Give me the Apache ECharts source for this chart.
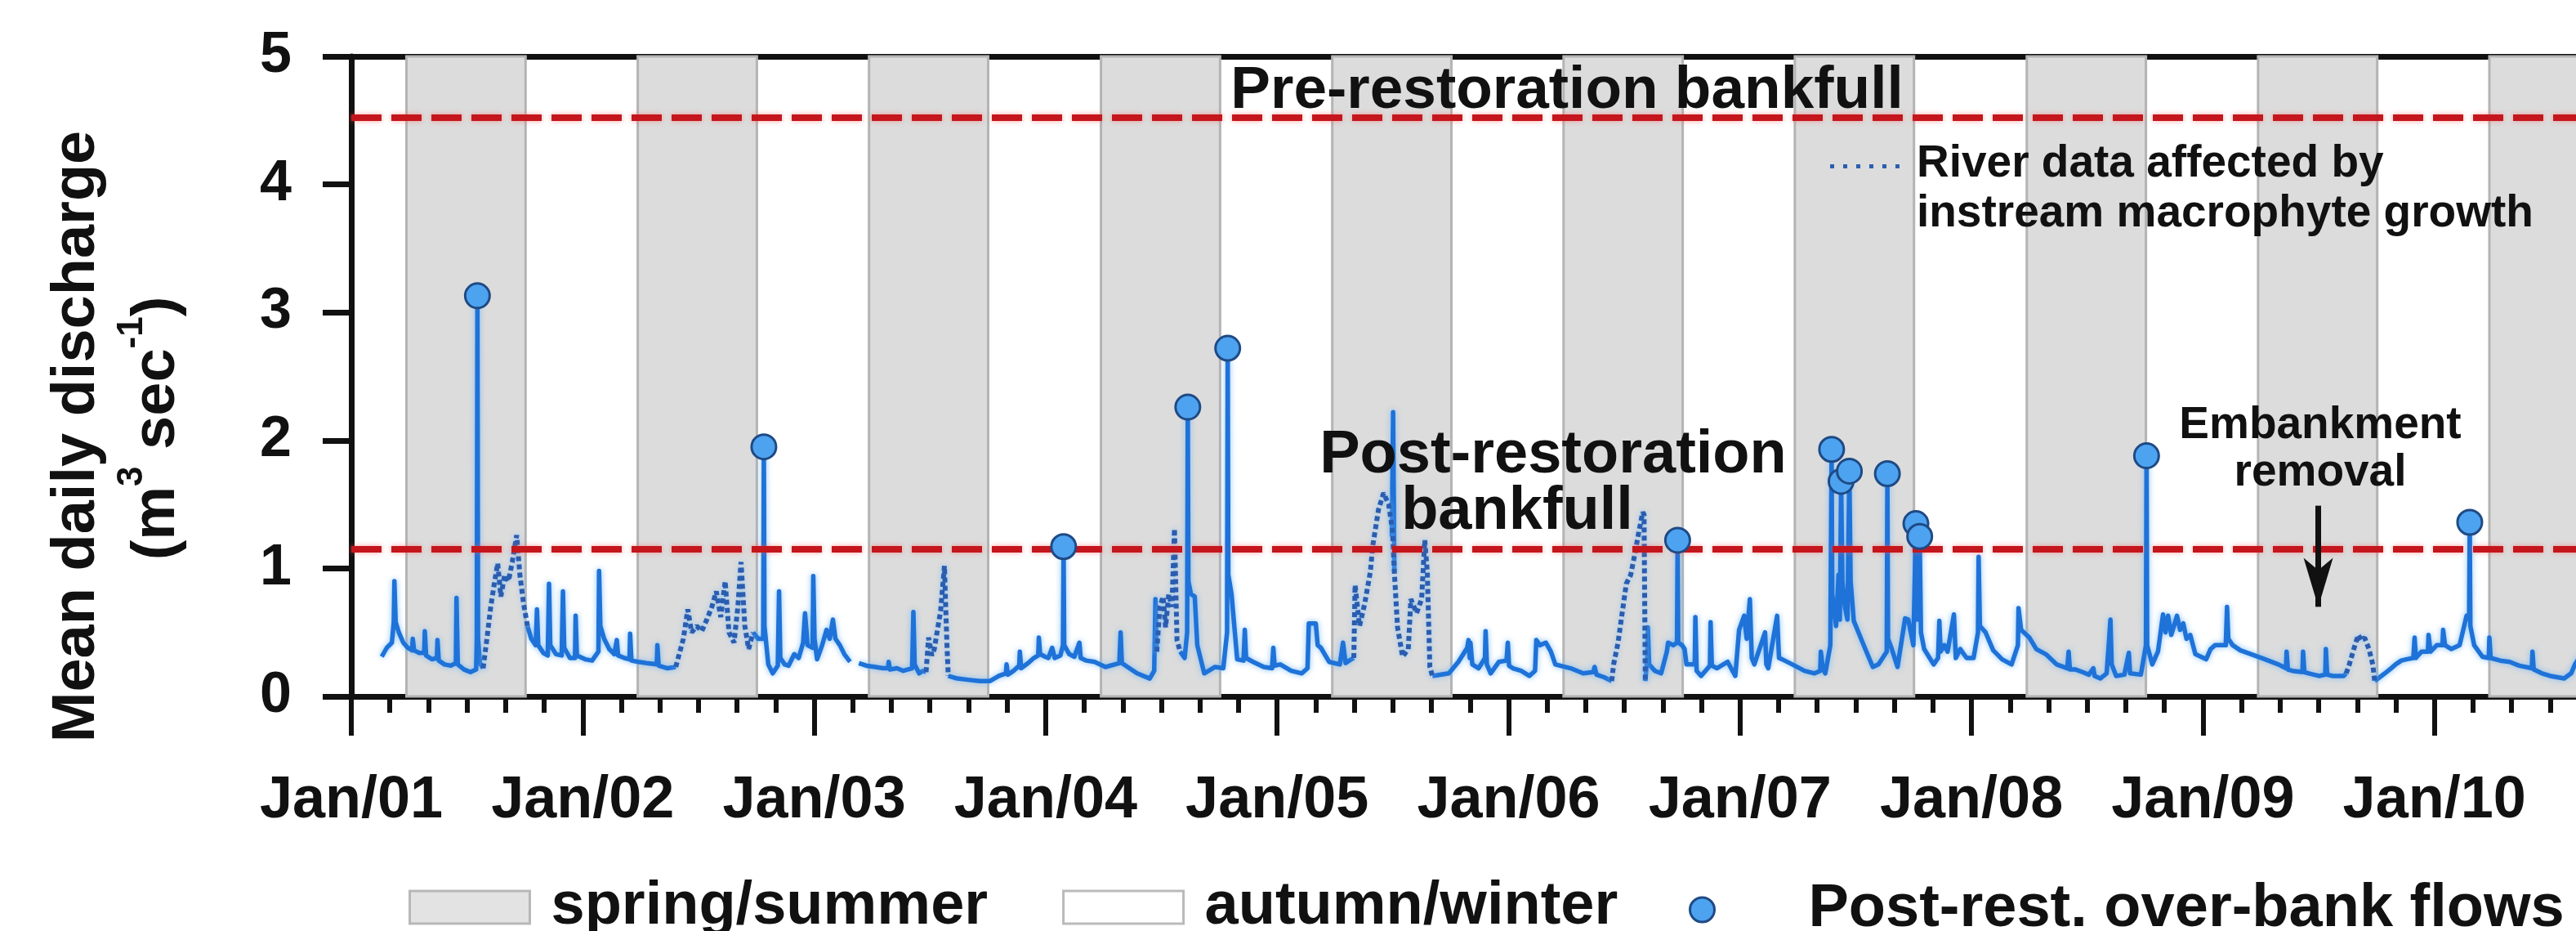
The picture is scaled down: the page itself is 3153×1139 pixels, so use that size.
<!DOCTYPE html>
<html>
<head>
<meta charset="utf-8">
<script src="https://cdn.jsdelivr.net/npm/echarts@6/dist/echarts.min.js"></script>
<style>
  html, body { margin: 0; padding: 0; background: #ffffff; }
  #chart { width: 3153px; height: 1139px; }
</style>
</head>
<body>
<div id="chart"></div>
<script>
// ---------------------------------------------------------------
// Mean daily discharge, 2001-2010
// ---------------------------------------------------------------

// x-axis tick labels (one per January)
const yearLabels = ['Jan/01', 'Jan/02', 'Jan/03', 'Jan/04', 'Jan/05',
                    'Jan/06', 'Jan/07', 'Jan/08', 'Jan/09', 'Jan/10'];

// spring/summer periods [start, end]
const springSummer = [
  ['2001-03-29', '2001-10-03'], ['2002-03-29', '2002-10-03'],
  ['2003-03-29', '2003-10-03'], ['2004-03-29', '2004-10-03'],
  ['2005-03-29', '2005-10-03'], ['2006-03-29', '2006-10-03'],
  ['2007-03-29', '2007-10-03'], ['2008-03-29', '2008-10-03'],
  ['2009-03-29', '2009-10-03'], ['2010-03-29', '2010-10-03']
];

// bankfull discharge levels (m3/s)
const preBankfull = 4.52;
const postBankfull = 1.15;

// embankment removal date and arrow extent (m3/s)
const embankmentRemoval = '2009-07-02';
const arrowSpan = [1.49, 0.70];

// post-restoration over-bank flow peaks [date, m3/s]
const overbankFlows = [
  ['2001-07-19', 3.13], ['2002-10-14', 1.95], ['2004-01-30', 1.17],
  ['2004-08-13', 2.26], ['2004-10-15', 2.72], ['2006-09-25', 1.22],
  ['2007-05-26', 1.93], ['2007-06-10', 1.68], ['2007-06-23', 1.76],
  ['2007-08-22', 1.74], ['2007-10-06', 1.35], ['2007-10-12', 1.25],
  ['2008-10-04', 1.88], ['2010-02-26', 1.36]
];

// daily discharge, reliable record [date, m3/s]; null = break in record
const gaugedFlow = [
  ['2001-02-18',0.31],['2001-02-26',0.38],['2001-03-06',0.42],['2001-03-09',0.58],['2001-03-10',0.90],
  ['2001-03-12',0.58],['2001-03-17',0.50],['2001-03-24',0.42],['2001-03-31',0.38],['2001-04-07',0.36],
  ['2001-04-08',0.45],['2001-04-10',0.36],['2001-04-18',0.34],['2001-04-26',0.34],['2001-04-27',0.51],
  ['2001-04-29',0.32],['2001-05-08',0.29],['2001-05-16',0.30],['2001-05-17',0.44],['2001-05-19',0.28],
  ['2001-05-28',0.25],['2001-06-07',0.24],['2001-06-15',0.26],['2001-06-16',0.77],['2001-06-18',0.25],
  ['2001-06-28',0.21],['2001-07-08',0.19],['2001-07-17',0.21],['2001-07-18',0.45],['2001-07-20',0.45],
  ['2001-07-23',0.26],['2001-07-28',0.22],
  null,
  ['2001-10-06',0.55],['2001-10-12',0.45],['2001-10-19',0.40],['2001-10-21',0.68],['2001-10-23',0.40],
  ['2001-10-31',0.34],['2001-11-07',0.32],['2001-11-09',0.88],['2001-11-11',0.40],['2001-11-20',0.33],
  ['2001-11-29',0.32],['2001-12-01',0.82],['2001-12-03',0.38],['2001-12-12',0.30],['2001-12-20',0.30],
  ['2001-12-21',0.63],['2001-12-23',0.32],['2002-01-05',0.29],['2002-01-16',0.28],['2002-01-26',0.35],
  ['2002-01-27',0.98],['2002-01-29',0.55],['2002-02-04',0.45],['2002-02-12',0.37],['2002-02-20',0.33],
  ['2002-02-24',0.44],['2002-02-26',0.32],['2002-03-08',0.30],['2002-03-16',0.29],['2002-03-17',0.49],
  ['2002-03-19',0.28],['2002-03-30',0.27],['2002-04-12',0.26],['2002-04-28',0.25],['2002-04-29',0.40],
  ['2002-05-01',0.24],['2002-05-15',0.22],['2002-05-28',0.23],
  null,
  ['2002-09-27',0.50],['2002-10-05',0.45],['2002-10-13',0.45],['2002-10-15',0.55],['2002-10-21',0.25],
  ['2002-10-28',0.18],['2002-11-05',0.24],['2002-11-07',0.82],['2002-11-09',0.30],['2002-11-16',0.25],
  ['2002-11-22',0.24],['2002-12-01',0.33],['2002-12-08',0.30],['2002-12-15',0.42],['2002-12-18',0.65],
  ['2002-12-22',0.40],['2002-12-30',0.38],['2002-12-31',0.94],['2003-01-02',0.45],['2003-01-06',0.29],
  ['2003-01-14',0.40],['2003-01-21',0.52],['2003-01-26',0.45],['2003-01-31',0.60],['2003-02-04',0.45],
  ['2003-02-11',0.40],['2003-02-18',0.33],['2003-02-27',0.27],
  null,
  ['2003-03-13',0.26],['2003-03-25',0.24],['2003-04-08',0.23],['2003-04-20',0.22],['2003-04-28',0.22],
  ['2003-04-29',0.27],['2003-05-01',0.21],['2003-05-12',0.22],['2003-05-22',0.20],['2003-06-05',0.22],
  ['2003-06-07',0.66],['2003-06-09',0.25],['2003-06-16',0.18],['2003-06-22',0.20],['2003-06-27',0.19],
  null,
  ['2003-08-01',0.16],['2003-08-15',0.14],['2003-09-01',0.13],['2003-09-20',0.12],['2003-10-06',0.12],
  ['2003-10-20',0.16],['2003-10-31',0.18],['2003-11-01',0.25],['2003-11-03',0.17],['2003-11-12',0.20],
  ['2003-11-21',0.24],['2003-11-22',0.35],['2003-11-24',0.22],['2003-12-05',0.26],['2003-12-14',0.30],
  ['2003-12-21',0.32],['2003-12-22',0.46],['2003-12-24',0.33],['2004-01-01',0.31],['2004-01-06',0.30],
  ['2004-01-12',0.38],['2004-01-16',0.30],['2004-01-25',0.32],['2004-01-29',0.40],['2004-01-31',0.40],
  ['2004-02-08',0.33],['2004-02-16',0.31],['2004-02-24',0.42],['2004-02-26',0.30],['2004-03-06',0.28],
  ['2004-03-19',0.27],['2004-04-05',0.23],['2004-04-27',0.26],['2004-04-29',0.50],['2004-05-01',0.26],
  ['2004-05-10',0.23],['2004-05-25',0.18],['2004-06-14',0.14],['2004-06-21',0.20],['2004-06-23',0.76],
  ['2004-06-25',0.35],
  null,
  ['2004-08-01',0.35],['2004-08-08',0.30],['2004-08-12',0.50],['2004-08-14',0.90],['2004-08-18',0.80],
  ['2004-08-24',0.78],['2004-08-28',0.40],['2004-09-08',0.18],['2004-09-25',0.23],['2004-10-08',0.22],
  ['2004-10-14',0.50],['2004-10-16',0.95],['2004-10-21',0.80],['2004-10-30',0.29],['2004-11-09',0.28],
  ['2004-11-11',0.52],['2004-11-13',0.30],['2004-11-24',0.27],['2004-12-11',0.23],['2004-12-24',0.22],
  ['2004-12-26',0.38],['2004-12-28',0.24],['2005-01-06',0.25],['2005-01-23',0.20],['2005-02-09',0.18],
  ['2005-02-18',0.22],['2005-02-20',0.57],['2005-03-03',0.57],['2005-03-06',0.40],['2005-03-11',0.38],
  ['2005-03-24',0.27],['2005-04-10',0.25],['2005-04-15',0.42],['2005-04-19',0.26],['2005-04-28',0.29],
  ['2005-05-02',0.30],
  null,
  ['2005-07-01',1.25],['2005-07-03',2.22],['2005-07-05',0.97],
  null,
  ['2005-09-03',0.16],['2005-09-29',0.18],['2005-10-14',0.27],['2005-10-28',0.38],['2005-10-30',0.44],
  ['2005-11-01',0.30],['2005-11-02',0.42],['2005-11-05',0.25],['2005-11-15',0.22],['2005-11-25',0.30],
  ['2005-11-26',0.51],['2005-11-28',0.25],['2005-12-04',0.18],['2005-12-17',0.27],['2005-12-29',0.28],
  ['2005-12-31',0.42],['2006-01-02',0.24],['2006-01-08',0.22],['2006-01-21',0.20],['2006-02-03',0.16],
  ['2006-02-12',0.20],['2006-02-14',0.44],['2006-02-20',0.40],['2006-03-01',0.42],['2006-03-09',0.35],
  ['2006-03-16',0.25],['2006-04-09',0.22],['2006-04-29',0.18],['2006-05-15',0.19],['2006-05-17',0.23],
  ['2006-05-20',0.17],['2006-06-01',0.15],['2006-06-13',0.12],
  null,
  ['2006-08-05',0.12],['2006-08-08',0.30],['2006-08-09',0.54],['2006-08-11',0.25],['2006-08-20',0.20],
  ['2006-08-30',0.18],['2006-09-08',0.35],['2006-09-10',0.42],['2006-09-18',0.40],['2006-09-24',0.42],
  ['2006-09-26',0.42],['2006-10-02',0.40],['2006-10-06',0.37],['2006-10-09',0.25],['2006-10-22',0.25],
  ['2006-10-23',0.62],['2006-10-25',0.20],['2006-11-01',0.16],['2006-11-15',0.24],['2006-11-16',0.58],
  ['2006-11-18',0.24],['2006-11-26',0.22],['2006-12-13',0.27],['2006-12-25',0.16],['2006-12-31',0.52],
  ['2007-01-08',0.63],['2007-01-12',0.45],['2007-01-17',0.76],['2007-01-20',0.30],['2007-01-24',0.25],
  ['2007-02-10',0.50],['2007-02-12',0.25],['2007-02-15',0.22],['2007-03-01',0.63],['2007-03-04',0.30],
  ['2007-03-09',0.29],['2007-03-25',0.25],['2007-04-13',0.20],['2007-04-29',0.18],['2007-05-08',0.20],
  ['2007-05-09',0.35],['2007-05-12',0.22],['2007-05-16',0.18],['2007-05-24',0.40],['2007-05-27',0.80],
  ['2007-06-02',0.55],['2007-06-06',0.95],['2007-06-08',0.60],['2007-06-12',0.90],['2007-06-16',0.70],
  ['2007-06-20',0.60],['2007-06-25',0.90],['2007-06-30',0.59],['2007-07-14',0.42],['2007-07-30',0.23],
  ['2007-08-08',0.25],['2007-08-21',0.35],['2007-08-23',0.45],['2007-08-29',0.37],['2007-09-07',0.23],
  ['2007-09-19',0.61],['2007-09-24',0.60],['2007-10-02',0.40],['2007-10-08',0.60],['2007-10-14',0.50],
  ['2007-10-19',0.37],['2007-11-03',0.25],['2007-11-10',0.30],['2007-11-12',0.59],['2007-11-14',0.35],
  ['2007-11-20',0.40],['2007-11-25',0.35],['2007-12-05',0.64],['2007-12-08',0.30],['2007-12-15',0.37],
  ['2007-12-25',0.30],['2008-01-05',0.30],['2008-01-12',0.50],['2008-01-13',1.09],['2008-01-15',0.55],
  ['2008-01-24',0.50],['2008-02-05',0.36],['2008-02-19',0.29],['2008-03-05',0.25],['2008-03-15',0.40],
  ['2008-03-16',0.69],['2008-03-20',0.52],['2008-04-02',0.46],['2008-04-13',0.37],['2008-04-28',0.33],
  ['2008-05-15',0.25],['2008-06-01',0.22],['2008-06-03',0.35],['2008-06-05',0.21],['2008-06-14',0.21],
  ['2008-06-25',0.19],['2008-07-05',0.17],['2008-07-12',0.22],['2008-07-14',0.16],['2008-07-23',0.14],
  ['2008-08-02',0.18],['2008-08-06',0.45],['2008-08-08',0.60],['2008-08-10',0.25],['2008-08-17',0.16],
  ['2008-08-30',0.17],['2008-09-06',0.34],['2008-09-08',0.18],['2008-09-25',0.17],['2008-10-03',0.40],
  ['2008-10-05',0.40],['2008-10-13',0.25],['2008-10-22',0.35],['2008-10-30',0.64],['2008-11-03',0.50],
  ['2008-11-07',0.63],['2008-11-12',0.48],['2008-11-21',0.63],['2008-11-26',0.52],['2008-12-01',0.57],
  ['2008-12-06',0.45],['2008-12-12',0.48],['2008-12-20',0.33],['2009-01-06',0.29],['2009-01-13',0.37],
  ['2009-01-20',0.40],['2009-02-06',0.40],['2009-02-08',0.70],['2009-02-10',0.45],['2009-02-17',0.40],
  ['2009-03-01',0.36],['2009-03-18',0.33],['2009-04-09',0.29],['2009-04-30',0.25],['2009-05-12',0.22],
  ['2009-05-13',0.35],['2009-05-15',0.21],['2009-05-22',0.20],['2009-06-07',0.19],['2009-06-08',0.35],
  ['2009-06-10',0.19],['2009-06-17',0.18],['2009-07-03',0.16],['2009-07-13',0.17],['2009-07-14',0.37],
  ['2009-07-16',0.17],['2009-07-25',0.16],['2009-08-11',0.16],['2009-08-15',0.18],
  null,
  ['2009-09-29',0.12],['2009-10-15',0.18],['2009-10-25',0.22],['2009-11-01',0.25],['2009-11-10',0.28],
  ['2009-11-18',0.29],['2009-11-29',0.30],['2009-12-01',0.46],['2009-12-03',0.30],['2009-12-12',0.35],
  ['2009-12-22',0.35],['2009-12-23',0.48],['2009-12-26',0.35],['2010-01-05',0.40],['2010-01-14',0.40],
  ['2010-01-15',0.52],['2010-01-18',0.40],['2010-01-28',0.37],['2010-02-10',0.40],['2010-02-21',0.63],
  ['2010-02-25',0.60],['2010-02-27',0.55],['2010-03-05',0.40],['2010-03-18',0.31],['2010-03-28',0.30],
  ['2010-03-29',0.46],['2010-03-31',0.30],['2010-04-15',0.28],['2010-04-30',0.27],['2010-05-15',0.24],
  ['2010-06-04',0.22],['2010-06-05',0.35],['2010-06-07',0.21],['2010-06-20',0.18],['2010-07-03',0.16],
  ['2010-07-25',0.14],['2010-08-05',0.18],['2010-08-11',0.25],['2010-08-20',0.32]
];

// daily discharge affected by instream macrophyte growth [date, m3/s]
const macrophyteFlow = [
  ['2001-07-28',0.22],['2001-08-03',0.45],['2001-08-09',0.70],['2001-08-14',0.86],['2001-08-20',1.04],
  ['2001-08-25',0.78],['2001-08-31',0.95],['2001-09-06',0.90],['2001-09-12',1.05],['2001-09-19',1.26],
  ['2001-09-24',0.95],['2001-09-30',0.72],['2001-10-06',0.55],
  null,
  ['2002-05-28',0.23],['2002-06-03',0.34],['2002-06-09',0.45],['2002-06-16',0.68],['2002-06-22',0.50],
  ['2002-06-30',0.55],['2002-07-08',0.51],['2002-07-16',0.60],['2002-07-24',0.70],['2002-07-31',0.82],
  ['2002-08-07',0.62],['2002-08-14',0.90],['2002-08-20',0.50],['2002-08-28',0.42],['2002-09-03',0.70],
  ['2002-09-08',1.05],['2002-09-14',0.55],['2002-09-20',0.37],['2002-09-27',0.50],
  null,
  ['2003-06-27',0.19],['2003-07-01',0.46],['2003-07-06',0.32],['2003-07-10',0.37],['2003-07-15',0.52],
  ['2003-07-20',0.67],['2003-07-26',1.02],['2003-07-28',0.70],['2003-07-30',0.40],['2003-08-01',0.16],
  null,
  ['2004-06-25',0.35],['2004-06-30',0.70],['2004-07-05',0.78],['2004-07-09',0.54],['2004-07-14',0.80],
  ['2004-07-19',0.70],['2004-07-23',1.31],['2004-07-27',0.44],['2004-08-01',0.35],
  null,
  ['2005-05-02',0.30],['2005-05-04',0.87],['2005-05-11',0.55],['2005-05-19',0.72],['2005-05-28',0.97],
  ['2005-06-01',1.18],['2005-06-10',1.46],['2005-06-18',1.59],['2005-06-26',1.50],['2005-07-02',1.30],
  ['2005-07-05',0.97],['2005-07-10',0.54],['2005-07-18',0.31],['2005-07-27',0.37],['2005-07-31',0.76],
  ['2005-08-09',0.65],['2005-08-17',0.76],['2005-08-22',1.22],['2005-08-26',0.97],['2005-08-30',0.23],
  ['2005-09-03',0.16],
  null,
  ['2006-06-13',0.12],['2006-06-16',0.25],['2006-06-23',0.42],['2006-06-30',0.67],['2006-07-06',0.88],
  ['2006-07-13',0.95],['2006-07-19',1.10],['2006-07-26',1.29],['2006-08-01',1.44],['2006-08-03',1.42],
  ['2006-08-05',0.12],
  null,
  ['2009-08-15',0.18],['2009-08-20',0.25],['2009-08-27',0.37],['2009-09-03',0.48],['2009-09-08',0.44],
  ['2009-09-13',0.46],['2009-09-20',0.37],['2009-09-26',0.25],['2009-09-29',0.12]
];

// ---------------------------------------------------------------
const FONT = '"Liberation Sans", Arial, Helvetica, sans-serif';
const MS_DAY = 86400000;
const ORIGIN = Date.UTC(2001, 0, 1);
const X_MIN = 2001;
const X_MAX = 2011.3177;   // right part of the axis runs past the page edge

// calendar date -> decimal year on the x axis
function yearPos(s) {
  const p = s.split('-').map(Number);
  return X_MIN + (Date.UTC(p[0], p[1] - 1, p[2]) - ORIGIN) / (365.25 * MS_DAY);
}
function toXY(list) {
  return list.map(d => d ? [yearPos(d[0]), d[1]] : ['-', '-']);
}
// put the over-bank peaks into the daily record
function withPeaks(list, peaks) {
  const out = list.slice();
  peaks.forEach(p => {
    let i = out.findIndex(q => q && q[0] > p[0]);
    if (i < 0) i = out.length;
    out.splice(i, 0, p);
  });
  return out;
}

const bandAreas = springSummer.map(b => [{ xAxis: yearPos(b[0]) }, { xAxis: yearPos(b[1]) }]);
const removalX = yearPos(embankmentRemoval);

const MACRO_NAME = 'River data affected by\ninstream macrophyte growth';
const OVERBANK_NAME = 'Post-rest. over-bank flows';

// dotted legend sample; the hair-sized square at the bottom pads the icon box
const DOTTED_ICON = 'path://M0 0h5v5H0z M16 0h5v5h-5z M32 0h5v5h-5z M48 0h5v5h-5z ' +
                    'M64 0h5v5h-5z M80 0h5v5h-5z M0 60h0.01v0.01H0z';

const chart = echarts.init(document.getElementById('chart'), null, { renderer: 'canvas' });

const boldText = (size, extra) => Object.assign({
  fontFamily: FONT, fontWeight: 'bold', fontSize: size, color: '#111'
}, extra || {});

chart.setOption({
  animation: false,
  backgroundColor: '#ffffff',
  grid: { left: 430, top: 69, right: -200, bottom: 287, outerBoundsMode: 'none', containLabel: false },
  xAxis: [
    {
      type: 'value', min: X_MIN, max: X_MAX, interval: 1,
      axisLine: { show: true, onZero: false, lineStyle: { color: '#111', width: 7 } },
      axisTick: { show: true, inside: false, length: 48, lineStyle: { color: '#111', width: 6 } },
      minorTick: { show: true, splitNumber: 6, length: 20, lineStyle: { color: '#111', width: 6 } },
      splitLine: { show: false },
      axisLabel: {
        show: true, margin: 92, lineHeight: 72,
        fontFamily: FONT, fontWeight: 'bold', fontSize: 72, color: '#111',
        showMinLabel: true, showMaxLabel: false,
        formatter: v => {
          const y = Math.round(v);
          if (Math.abs(v - y) > 1e-6 || y < 2001 || y > 2010) return '';
          return yearLabels[y - 2001];
        }
      }
    },
    {
      // top frame
      type: 'value', position: 'top', min: X_MIN, max: X_MAX,
      axisLine: { show: true, onZero: false, lineStyle: { color: '#111', width: 7 } },
      axisTick: { show: false }, axisLabel: { show: false }, splitLine: { show: false }
    }
  ],
  yAxis: {
    type: 'value', min: 0, max: 5, interval: 1,
    axisLine: { show: true, onZero: false, lineStyle: { color: '#111', width: 7 } },
    axisTick: { show: true, inside: false, length: 35, lineStyle: { color: '#111', width: 7 } },
    splitLine: { show: false },
    axisLabel: { margin: 73, fontFamily: FONT, fontWeight: 'bold', fontSize: 70, color: '#111' }
  },
  legend: [
    {
      data: [
        { name: 'spring/summer', icon: 'rect', itemStyle: { color: '#dcdcdc', borderColor: '#a9a9a9', borderWidth: 3 } },
        { name: 'autumn/winter', icon: 'rect', itemStyle: { color: '#ffffff', borderColor: '#a9a9a9', borderWidth: 3 } }
      ],
      orient: 'horizontal', left: 500, top: 1073, padding: 0,
      itemWidth: 147, itemHeight: 40, itemGap: 91, selectedMode: false,
      textStyle: boldText(74, { lineHeight: 74, padding: [0, 0, 0, 21] })
    },
    {
      data: [
        { name: OVERBANK_NAME, icon: 'circle', itemStyle: { color: '#4da3f0', borderColor: '#1f4a85', borderWidth: 3 } }
      ],
      left: 2067, top: 1076, padding: 0,
      itemWidth: 30, itemHeight: 32, selectedMode: false,
      textStyle: boldText(74, { lineHeight: 74, padding: [0, 0, 0, 110] })
    },
    {
      data: [
        { name: MACRO_NAME, icon: DOTTED_ICON, itemStyle: { color: '#2b5fae' } }
      ],
      left: 2240, top: 170, padding: 0,
      itemWidth: 85, itemHeight: 60, selectedMode: false,
      textStyle: boldText(55, { lineHeight: 61, padding: [0, 0, 0, 16] })
    }
  ],
  series: [
    {
      // spring/summer shading
      name: 'spring/summer', type: 'scatter', data: [], z: 1,
      itemStyle: { color: '#dcdcdc', borderColor: '#a9a9a9', borderWidth: 3 },
      markArea: {
        silent: true,
        itemStyle: { color: '#dcdcdc', borderColor: '#b4b4b4', borderWidth: 3 },
        label: { show: false },
        data: bandAreas
      }
    },
    {
      name: 'autumn/winter', type: 'scatter', data: [], z: 1,
      itemStyle: { color: '#ffffff', borderColor: '#a9a9a9', borderWidth: 3 }
    },
    {
      // bankfull levels
      name: 'bankfull', type: 'scatter', data: [], z: 3,
      markLine: {
        silent: true, symbol: ['none', 'none'], label: { show: false },
        lineStyle: {
          color: '#c4161c', width: 8, type: [37, 12],
          shadowColor: 'rgba(255,90,90,0.55)', shadowBlur: 6
        },
        data: [{ yAxis: preBankfull }, { yAxis: postBankfull }]
      }
    },
    {
      name: 'Mean daily discharge', type: 'line', z: 4,
      data: toXY(withPeaks(gaugedFlow, overbankFlows)),
      symbol: 'none', showSymbol: false, connectNulls: false, clip: true,
      lineStyle: {
        color: '#1e72d8', width: 5.5, join: 'round',
        shadowColor: 'rgba(120,185,245,0.9)', shadowBlur: 7
      },
      markLine: {
        silent: true, symbol: ['none', 'arrow'], symbolSize: 60,
        label: { show: false },
        lineStyle: { color: '#111', width: 7, type: 'solid' },
        itemStyle: { color: '#111' },
        data: [[
          { coord: [removalX, arrowSpan[0]], symbol: 'none' },
          { coord: [removalX, arrowSpan[1]], symbol: 'arrow', symbolSize: [27, 60] }
        ]]
      }
    },
    {
      name: MACRO_NAME, type: 'line', z: 4,
      data: toXY(macrophyteFlow),
      symbol: 'none', showSymbol: false, connectNulls: false, clip: true,
      itemStyle: { color: '#2b5fae' },
      lineStyle: {
        color: '#2a5db0', width: 6, type: [6, 4],
        shadowColor: 'rgba(130,190,245,0.8)', shadowBlur: 6
      }
    },
    {
      name: OVERBANK_NAME, type: 'scatter', z: 5,
      data: toXY(overbankFlows),
      symbol: 'circle', symbolSize: 30,
      itemStyle: { color: '#4da3f0', borderColor: '#1f4a85', borderWidth: 3, opacity: 1 }
    }
  ],
  graphic: [
    {
      type: 'text', x: 95, y: 534, rotation: Math.PI / 2, z: 20,
      style: {
        text: 'Mean daily discharge', fill: '#111',
        font: 'bold 74px ' + FONT, align: 'center', verticalAlign: 'middle'
      }
    },
    {
      type: 'text', x: 185, y: 524, rotation: Math.PI / 2, z: 20,
      style: {
        text: '{m|(m}{s|3}{m| sec}{s|-1}{m|)}', fill: '#111',
        align: 'center', verticalAlign: 'middle',
        rich: {
          m: { fontFamily: FONT, fontWeight: 'bold', fontSize: 74, lineHeight: 90, verticalAlign: 'bottom', fill: '#111' },
          s: { fontFamily: FONT, fontWeight: 'bold', fontSize: 44, lineHeight: 44, verticalAlign: 'top', fill: '#111' }
        }
      }
    },
    {
      type: 'text', x: 1918, y: 112, z: 20,
      style: { text: 'Pre-restoration bankfull', fill: '#111', font: 'bold 73px ' + FONT, align: 'center', verticalAlign: 'middle' }
    },
    {
      type: 'text', x: 1901, y: 558, z: 20,
      style: { text: 'Post-restoration', fill: '#111', font: 'bold 74px ' + FONT, align: 'center', verticalAlign: 'middle' }
    },
    {
      type: 'text', x: 1857, y: 627, z: 20,
      style: { text: 'bankfull', fill: '#111', font: 'bold 74px ' + FONT, align: 'center', verticalAlign: 'middle' }
    },
    {
      type: 'text', x: 2840, y: 521, z: 20,
      style: { text: 'Embankment', fill: '#111', font: 'bold 55px ' + FONT, align: 'center', verticalAlign: 'middle' }
    },
    {
      type: 'text', x: 2840, y: 579, z: 20,
      style: { text: 'removal', fill: '#111', font: 'bold 55px ' + FONT, align: 'center', verticalAlign: 'middle' }
    }
  ]
});
</script>
</body>
</html>
